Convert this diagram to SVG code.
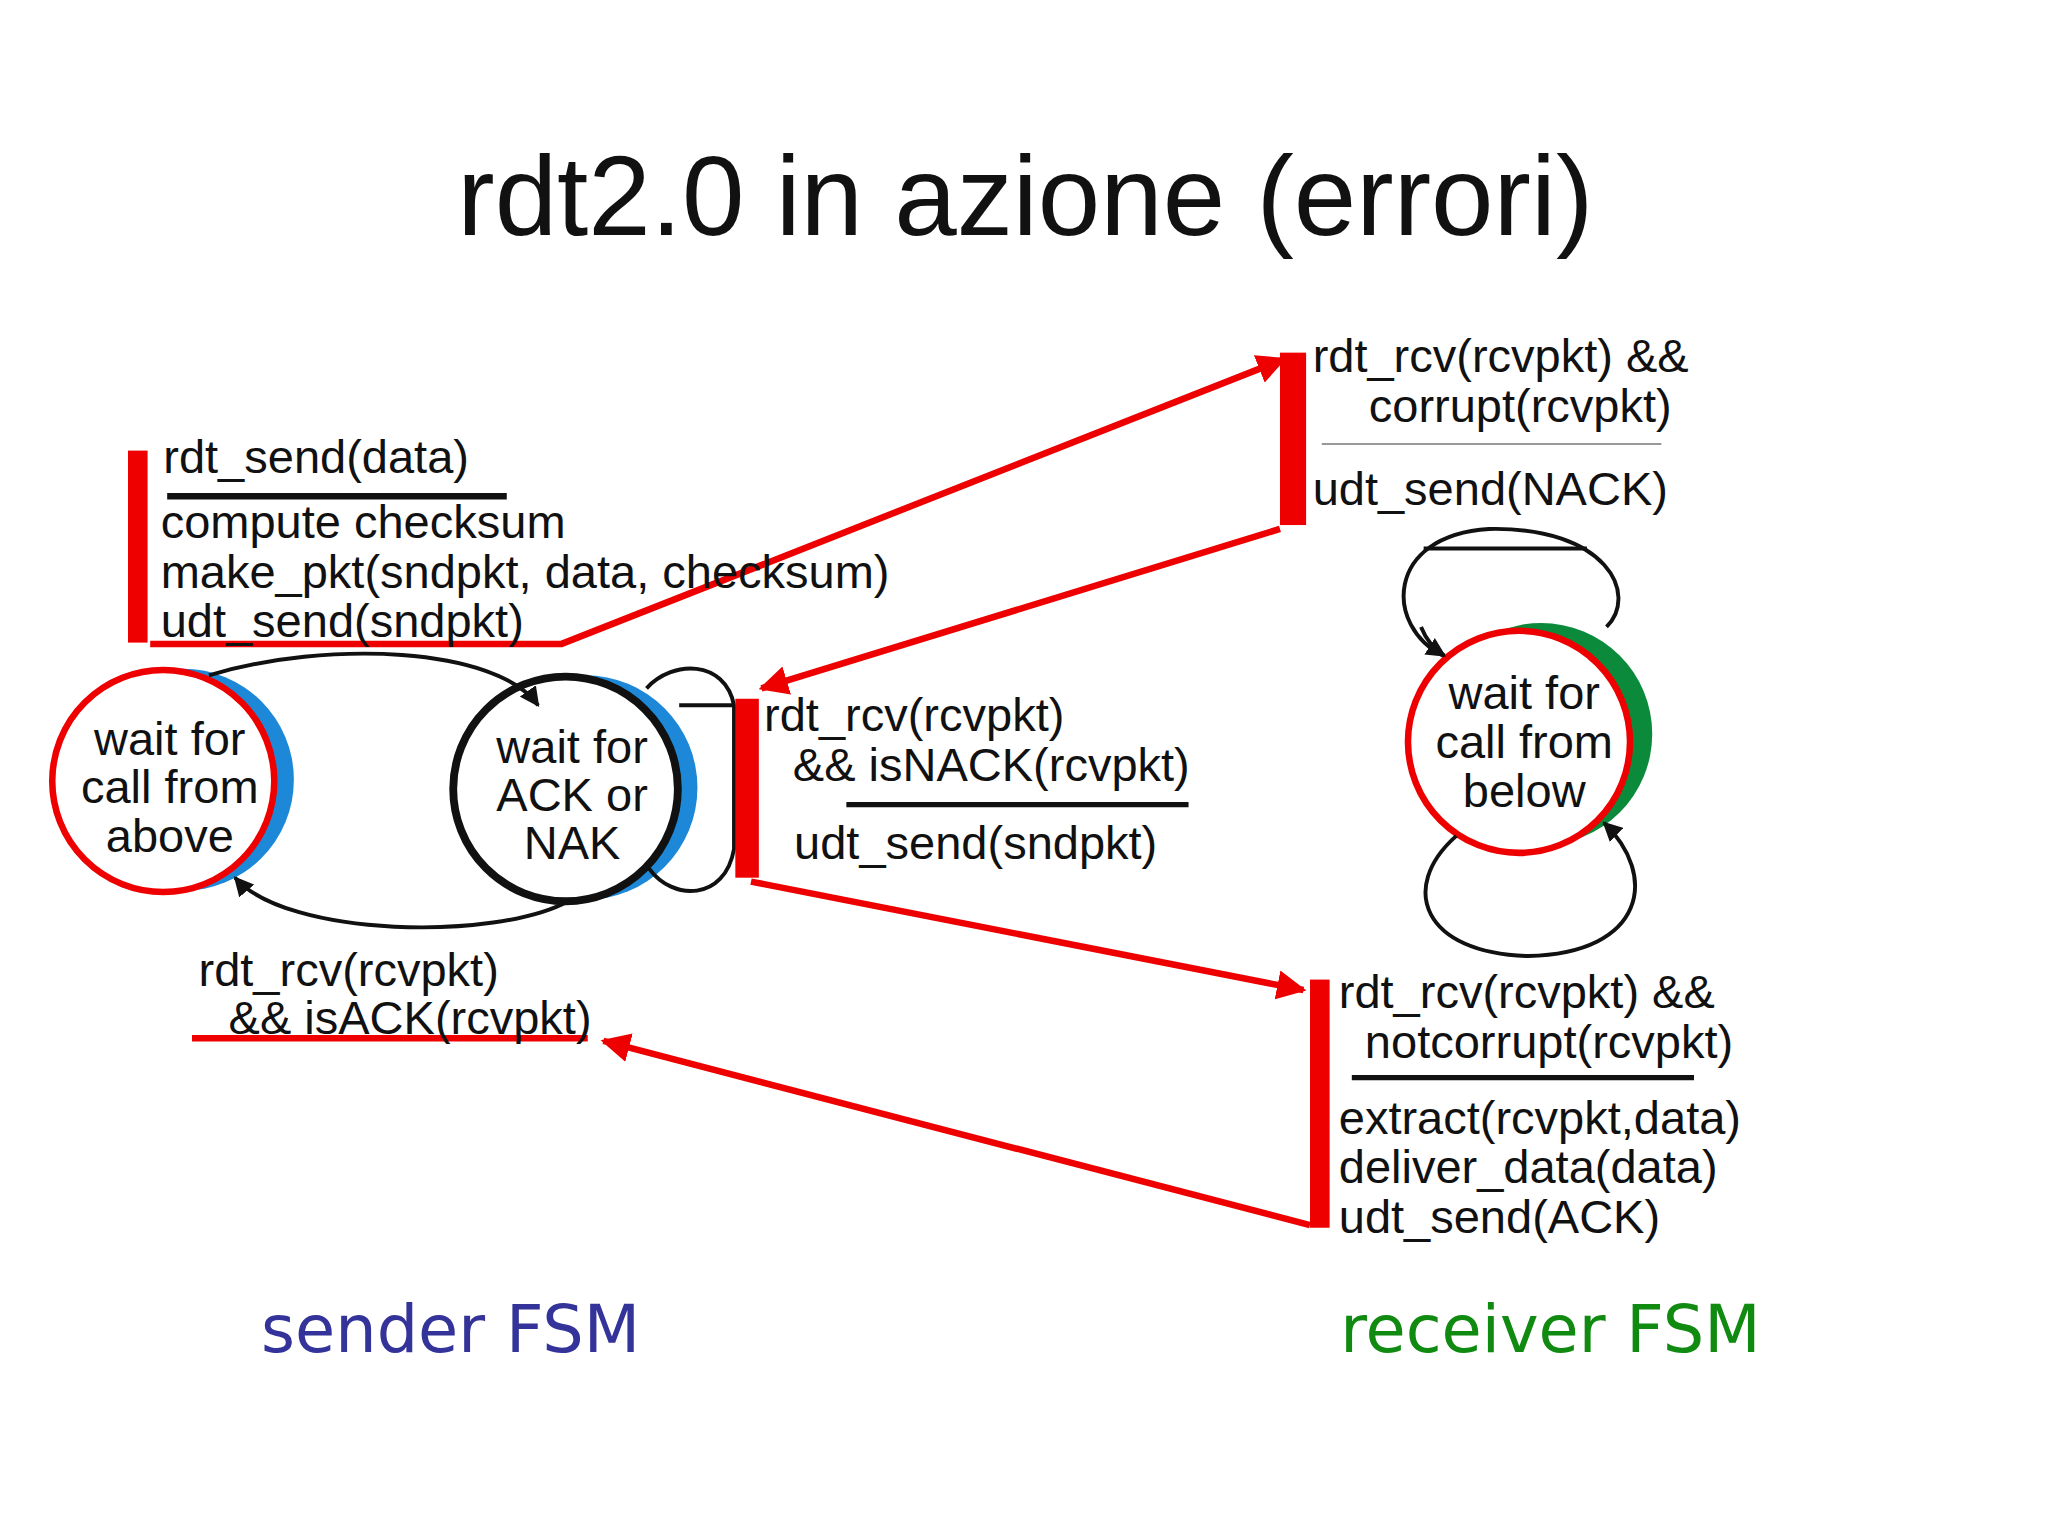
<svg xmlns="http://www.w3.org/2000/svg" width="2048" height="1536" viewBox="0 0 2048 1536">
<defs>
<style>
.t{font-family:"Liberation Sans",Arial,sans-serif;font-size:36px;fill:#111}
.st{font-family:"Liberation Sans",Arial,sans-serif;font-size:36px;fill:#111;text-anchor:middle}
.red{stroke:#e00;stroke-width:5;fill:none}
.bar{fill:#e00}
.blk{stroke:#111;stroke-width:3;fill:none}
.lbl{font-family:"DejaVu Sans",sans-serif;font-size:50px;text-anchor:middle}
</style>
<marker id="ar" viewBox="0 0 10 10" refX="9" refY="5" markerWidth="4.5" markerHeight="4.5" orient="auto"><path d="M0,0L10,5L0,10z" fill="#e00"/></marker>
<marker id="ab" viewBox="0 0 10 10" refX="9" refY="5" markerWidth="5" markerHeight="5" orient="auto"><path d="M0,0L10,5L0,10z" fill="#111"/></marker>
</defs>
<rect width="2048" height="1536" fill="#fff"/>
<g transform="scale(1.3061)">
<text x="785" y="180" font-family="Liberation Sans,Arial,sans-serif" font-size="86" text-anchor="middle" fill="#111">rdt2.0 in azione (errori)</text>
<g id="s1"><circle cx="140" cy="597" r="85" fill="#1e88d8"/><circle cx="125" cy="598" r="85" fill="#fff" stroke="#e00" stroke-width="5"/><text class="st" x="130" y="578">wait for</text><text class="st" x="130" y="615">call from</text><text class="st" x="130" y="652">above</text></g>
<g id="s2"><circle cx="448" cy="603" r="86" fill="#1e88d8"/><circle cx="433" cy="604" r="86" fill="#fff" stroke="#111" stroke-width="6"/><text class="st" x="438" y="584">wait for</text><text class="st" x="438" y="621">ACK or</text><text class="st" x="438" y="658">NAK</text></g>
<g id="r1"><circle cx="1180" cy="562" r="85" fill="#0a8a3a"/><circle cx="1163" cy="568" r="85" fill="#fff" stroke="#e00" stroke-width="5"/><text class="st" x="1167" y="543">wait for</text><text class="st" x="1167" y="580">call from</text><text class="st" x="1167" y="618">below</text></g>
<g id="connectors">
<path class="blk" d="M160,517 C250,490 380,495 412,540" marker-end="url(#ab)"/>
<path class="blk" d="M435,690 C380,720 220,718 180,672" marker-end="url(#ab)"/>
<path class="blk" d="M495,527 C515,505 555,505 562,540 L562,650 C555,690 515,690 497,665"/>
<line class="blk" x1="520" y1="540" x2="562" y2="540"/>
<path class="blk" d="M1105,502 C1060,480 1060,410 1140,405 C1230,403 1255,455 1230,480" />
<line class="blk" x1="1090" y1="420" x2="1215" y2="420"/>
<path class="blk" d="M1088,480 C1092,490 1098,497 1106,502" marker-end="url(#ab)"/>
<path class="blk" d="M1115,640 C1070,680 1090,730 1170,732 C1260,730 1270,670 1228,630" marker-end="url(#ab)"/>
<path class="red" d="M115,493 L430,493 L983,275" marker-end="url(#ar)"/>
<path class="red" d="M980,405 L583,527" marker-end="url(#ar)"/>
<path class="red" d="M575,675 L998,758" marker-end="url(#ar)"/>
<path class="red" d="M1003,938 L462,797" marker-end="url(#ar)"/>
<line class="red" x1="147" y1="795" x2="450" y2="795"/>
</g>
<g id="t1"><rect class="bar" x="98" y="345" width="15" height="147"/><text class="t" x="125" y="362">rdt_send(data)</text><line x1="128" y1="380" x2="388" y2="380" stroke="#111" stroke-width="5"/><text class="t" x="123" y="412">compute checksum</text><text class="t" x="123" y="450">make_pkt(sndpkt, data, checksum)</text><text class="t" x="123" y="488">udt_send(sndpkt)</text></g>
<g id="t2"><rect class="bar" x="980" y="270" width="20" height="132"/><text class="t" x="1005" y="285">rdt_rcv(rcvpkt) &amp;&amp;</text><text class="t" x="1048" y="323">corrupt(rcvpkt)</text><line x1="1012" y1="340" x2="1272" y2="340" stroke="#999" stroke-width="1.5"/><text class="t" x="1005" y="387">udt_send(NACK)</text></g>
<g id="t3"><rect class="bar" x="563" y="535" width="18" height="137"/><text class="t" x="585" y="560">rdt_rcv(rcvpkt)</text><text class="t" x="607" y="598">&amp;&amp; isNACK(rcvpkt)</text><line x1="648" y1="616" x2="910" y2="616" stroke="#111" stroke-width="4"/><text class="t" x="608" y="658">udt_send(sndpkt)</text></g>
<g id="t4"><rect class="bar" x="1003" y="750" width="15" height="190"/><text class="t" x="1025" y="772">rdt_rcv(rcvpkt) &amp;&amp;</text><text class="t" x="1045" y="810">notcorrupt(rcvpkt)</text><line x1="1035" y1="825" x2="1297" y2="825" stroke="#111" stroke-width="4"/><text class="t" x="1025" y="868">extract(rcvpkt,data)</text><text class="t" x="1025" y="906">deliver_data(data)</text><text class="t" x="1025" y="944">udt_send(ACK)</text></g>
<g id="t5"><text class="t" x="152" y="755">rdt_rcv(rcvpkt)</text><text class="t" x="175" y="792">&amp;&amp; isACK(rcvpkt)</text></g>
<text class="lbl" x="345" y="1035" fill="#333399">sender FSM</text>
<text class="lbl" x="1187" y="1035" fill="#108a10">receiver FSM</text>
</g>
</svg>
